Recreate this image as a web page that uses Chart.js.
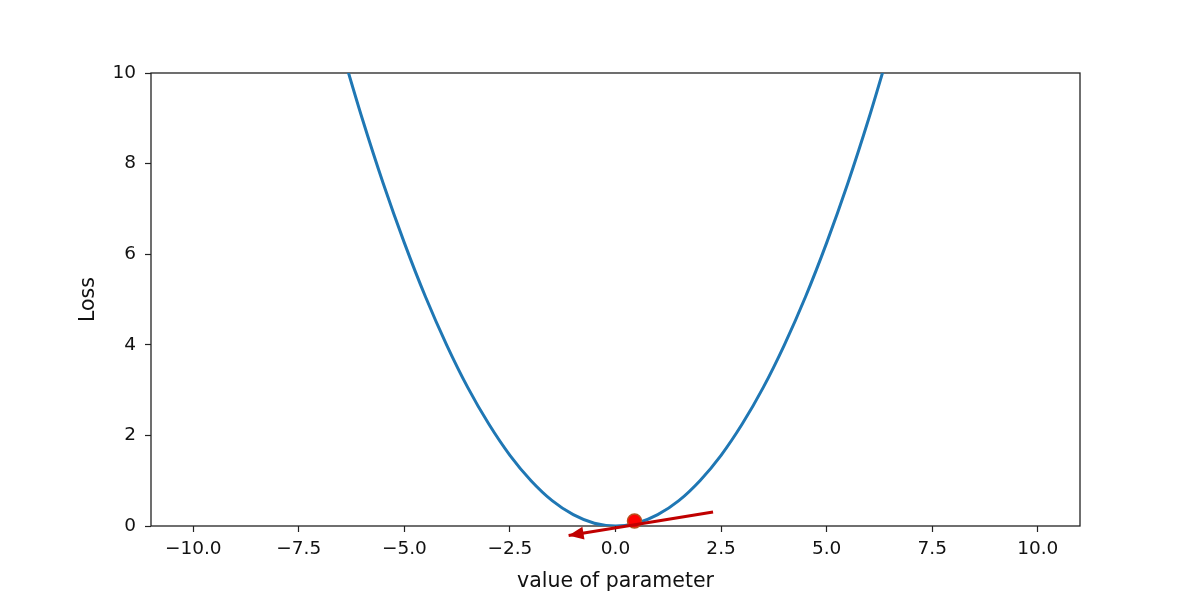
<!DOCTYPE html>
<html>
<head>
<meta charset="utf-8">
<script src="https://cdn.jsdelivr.net/npm/chart.js@4"></script>
<style>
html,body{margin:0;padding:0;background:#fff;}
#wrap{width:1200px;height:601px;position:relative;}
</style>
</head>
<body>
<div id="wrap"><canvas id="c" width="1200" height="601"></canvas></div>
<script>
// ---- data ----
const curveX = [-6.5,-6,-5.5,-5,-4.5,-4,-3.5,-3,-2.5,-2,-1.5,-1,-0.5,0,0.5,1,1.5,2,2.5,3,3.5,4,4.5,5,5.5,6,6.5];
const curveY = [10.56,9.0,7.56,6.25,5.06,4.0,3.06,2.25,1.56,1.0,0.56,0.25,0.06,0,0.06,0.25,0.56,1.0,1.56,2.25,3.06,4.0,5.06,6.25,7.56,9.0,10.56];
const pointX = [0.45];
const pointY = [0.11];
const arrowX = [2.31, -1.11];
const arrowY = [0.31, -0.21];
const xTickValues = [-10,-7.5,-5,-2.5,0,2.5,5,7.5,10];
const yTickValues = [0,2,4,6,8,10];
const xTitle = 'value of parameter';
const yTitle = 'Loss';

const zip = (xs, ys) => xs.map((x, i) => ({x: x, y: ys[i]}));
const fmtX = v => (v < 0 ? '\u2212' : '') + Math.abs(v).toFixed(1);
const FONT = 'DejaVu Sans';

const framePlugin = {
  id: 'frame',
  beforeDatasetsDraw(chart) {
    const {ctx, chartArea: a} = chart;
    ctx.save();
    ctx.strokeStyle = '#222';
    ctx.lineWidth = 1.3;
    ctx.strokeRect(a.left, a.top, a.right - a.left, a.bottom - a.top);
    ctx.restore();
  }
};

const arrowHeadPlugin = {
  id: 'arrowHead',
  afterDatasetsDraw(chart) {
    const meta = chart.getDatasetMeta(2);
    const pts = meta.data;
    if (pts.length < 2) return;
    const p0 = pts[pts.length - 2], p1 = pts[pts.length - 1];
    const ang = Math.atan2(p1.y - p0.y, p1.x - p0.x);
    const len = 15, half = 6.5;
    const {ctx} = chart;
    ctx.save();
    ctx.translate(p1.x, p1.y);
    ctx.rotate(ang);
    ctx.fillStyle = '#c00000';
    ctx.beginPath();
    ctx.moveTo(0, 0);
    ctx.lineTo(-len, -half);
    ctx.lineTo(-len, half);
    ctx.closePath();
    ctx.fill();
    ctx.restore();
  }
};

new Chart(document.getElementById('c'), {
  type: 'scatter',
  data: {
    datasets: [
      {
        data: zip(curveX, curveY),
        showLine: true,
        borderColor: '#1f77b4',
        borderWidth: 3,
        pointRadius: 0,
        cubicInterpolationMode: 'monotone',
        order: 3
      },
      {
        data: zip(pointX, pointY),
        showLine: false,
        pointRadius: 7,
        backgroundColor: '#ff0000',
        borderColor: '#b8501e',
        borderWidth: 1.5,
        clip: false,
        order: 2
      },
      {
        data: zip(arrowX, arrowY),
        showLine: true,
        borderColor: '#c00000',
        borderWidth: 3.2,
        pointRadius: 0,
        clip: false,
        order: 1
      }
    ]
  },
  options: {
    responsive: false,
    animation: false,
    events: [],
    layout: {padding: {left: 0, top: 73, right: 120, bottom: 0}},
    plugins: {legend: {display: false}, tooltip: {enabled: false}},
    scales: {
      x: {
        type: 'linear',
        min: -11, max: 11,
        afterBuildTicks: s => { s.ticks = xTickValues.map(v => ({value: v})); },
        afterFit: s => { s.height = 75; },
        grid: {display: true, drawOnChartArea: false, drawTicks: true, tickLength: 6, tickColor: '#222', tickWidth: 1.2},
        border: {display: false},
        ticks: {
          color: '#111', padding: 6, maxRotation: 0, autoSkip: false,
          font: {family: FONT, size: 18.5},
          callback: v => fmtX(v)
        },
        title: {display: true, text: xTitle, color: '#111', font: {family: FONT, size: 20.5}, padding: {top: 0, bottom: 7}}
      },
      y: {
        type: 'linear',
        min: 0, max: 10,
        afterBuildTicks: s => { s.ticks = yTickValues.map(v => ({value: v})); },
        afterFit: s => { s.width = 151; },
        grid: {display: true, drawOnChartArea: false, drawTicks: true, tickLength: 6, tickColor: '#222', tickWidth: 1.2},
        border: {display: false},
        ticks: {
          color: '#111', padding: 9, autoSkip: false,
          font: {family: FONT, size: 18.5},
          callback: v => String(v)
        },
        title: {display: true, text: yTitle, color: '#111', font: {family: FONT, size: 20.5}, padding: {top: 76, bottom: 0}}
      }
    }
  },
  plugins: [framePlugin, arrowHeadPlugin]
});
</script>
</body>
</html>
